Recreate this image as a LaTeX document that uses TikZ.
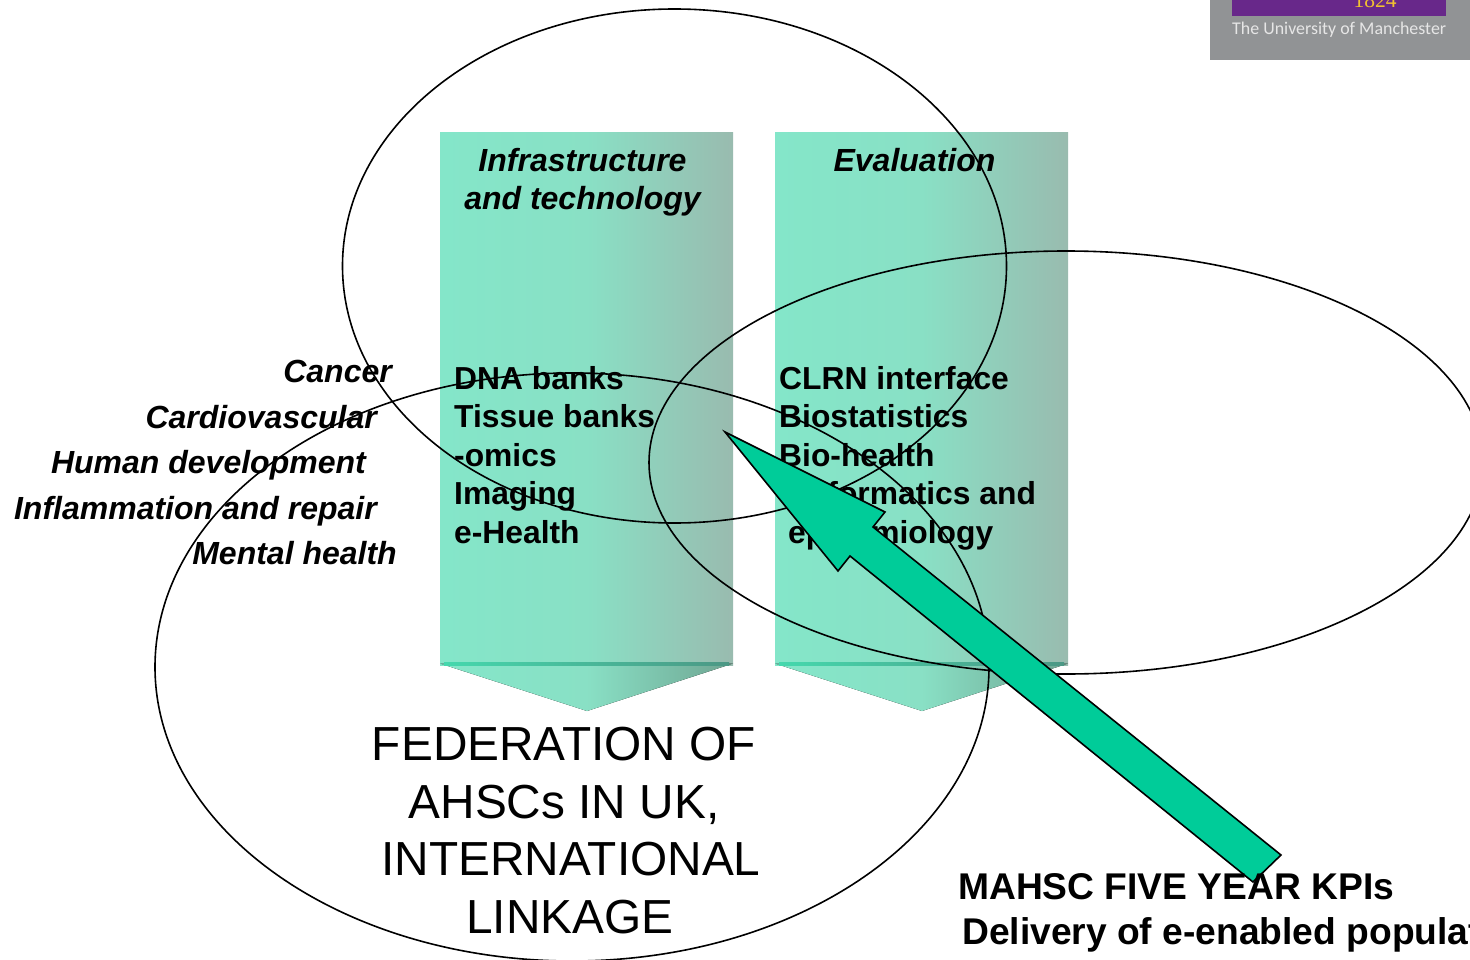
\documentclass[tikz,border=0pt]{standalone}
\usepackage{xcolor}
\usepackage{fontspec}
\setmainfont{Liberation Sans}
\newfontfamily\logofont{Carlito}
\newfontfamily\yearfont{Liberation Serif}
\definecolor{colleft}{HTML}{84E6C9}
\definecolor{colmid}{HTML}{89E0C5}
\definecolor{colright}{HTML}{99BBAF}
\definecolor{tipright}{HTML}{6FA592}
\definecolor{edgeleft}{HTML}{45D8AD}
\definecolor{edgeright}{HTML}{4C9885}
\definecolor{arrowgreen}{HTML}{00CC99}
\definecolor{logogrey}{HTML}{919395}
\definecolor{logopurple}{HTML}{68288A}
\definecolor{logogold}{HTML}{F2C230}
\definecolor{logotext}{HTML}{E6E6E6}
\tikzset{
    column/.style={left color=colleft, right color=colright, middle color=colmid},
    tip/.style={left color=colleft, right color=tipright, middle color=colmid},
    rim/.style={left color=edgeleft, right color=edgeright},
    venn/.style={draw=black, line width=1.6pt},
    head/.style={font=\fontsize{32}{38}\selectfont\bfseries\itshape, anchor=base},
    theme/.style={font=\fontsize{32}{38}\selectfont\bfseries\itshape, anchor=base east},
    entry/.style={font=\fontsize{31.8}{38}\selectfont\bfseries, anchor=base west},
    fed/.style={font=\fontsize{47.8}{57}\selectfont, anchor=base},
    kpi/.style={font=\fontsize{37.2}{45}\selectfont\bfseries, anchor=base west}
}
\begin{document}
\begin{tikzpicture}[x=1pt,y=-1pt]
    \useasboundingbox (0,0) rectangle (1470,960);
    \fill [logogrey] (1210,0) rectangle (1470,60);
    \fill [logopurple] (1232,0) rectangle (1446,16);
    \node [font=\yearfont\fontsize{21.5}{24}\selectfont, text=logogold, anchor=base] (year) at (1375,8) {1824};
    \node [font=\logofont\fontsize{17.9}{22}\selectfont, text=logotext, anchor=base west, inner sep=0pt] (univ) at (1232,34.5) {The University of Manchester};
    \fill [column] (440,132.5) rectangle (733,665.5);
    \fill [column] (775,132.5) rectangle (1068,665.5);
    \fill [tip] (440,663.5) -- (733,663.5) -- (587,711) -- cycle;
    \fill [tip] (775,663.5) -- (1068,663.5) -- (922,711) -- cycle;
    \fill [rim] (444,662.5) rectangle (729,665);
    \fill [rim] (779,662.5) rectangle (1064,665);
    \node [head] (infra1) at (582.5,171.5) {Infrastructure};
    \node [head] (infra2) at (582.5,209.5) {and technology};
    \node [head] (eval) at (914.5,171.5) {Evaluation};
    \node [theme, inner sep=0pt] (cancer) at (392,382) {Cancer};
    \node [theme, inner sep=0pt] (cardio) at (377,428) {Cardiovascular};
    \node [theme, inner sep=0pt] (human) at (366,473) {Human development};
    \node [theme, inner sep=0pt] (inflam) at (377,519) {Inflammation and repair};
    \node [theme, inner sep=0pt] (mental) at (397,564) {Mental health};
    \node [entry, inner sep=0pt] (dna) at (454,389) {DNA banks};
    \node [entry, inner sep=0pt] (tissue) at (454,427) {Tissue banks};
    \node [entry, inner sep=0pt] (omics) at (454,466) {-omics};
    \node [entry, inner sep=0pt] (imaging) at (454,504) {Imaging};
    \node [entry, inner sep=0pt] (ehealth) at (454,543) {e-Health};
    \node [entry, inner sep=0pt] (clrn) at (779,389) {CLRN interface};
    \node [entry, inner sep=0pt] (biostat) at (779,427) {Biostatistics};
    \node [entry, inner sep=0pt] (biohealth) at (779,466) {Bio-health};
    \node [entry, inner sep=0pt] (inform) at (799,504) {informatics and};
    \node [entry, inner sep=0pt] (epid) at (788,543) {epidemiology};
    \draw [venn] (674.5,266) ellipse [x radius=332, y radius=257];
    \draw [venn] (572,667) ellipse [x radius=417, y radius=294];
    \draw [venn] (1066,462.5) ellipse [x radius=417, y radius=211.5];
    \node [fed] (fed1) at (564,760) {FEDERATION OF};
    \node [fed] (fed2) at (564,818) {AHSCs IN UK,};
    \node [fed] (fed3) at (571,875) {INTERNATIONAL};
    \node [fed] (fed4) at (570,933) {LINKAGE};
    \draw [line width=1.6pt, fill=arrowgreen] (725,432) -- (885,512) -- (873,527) -- (1281,855)
        -- (1253,882) -- (850,556) -- (838,571) -- cycle;
    \node [kpi, inner sep=0pt] (kpi1) at (958,899) {MAHSC FIVE YEAR KPIs};
    \node [kpi, inner sep=0pt] (kpi2) at (962,944) {Delivery of e-enabled populat};
\end{tikzpicture}
\end{document}
